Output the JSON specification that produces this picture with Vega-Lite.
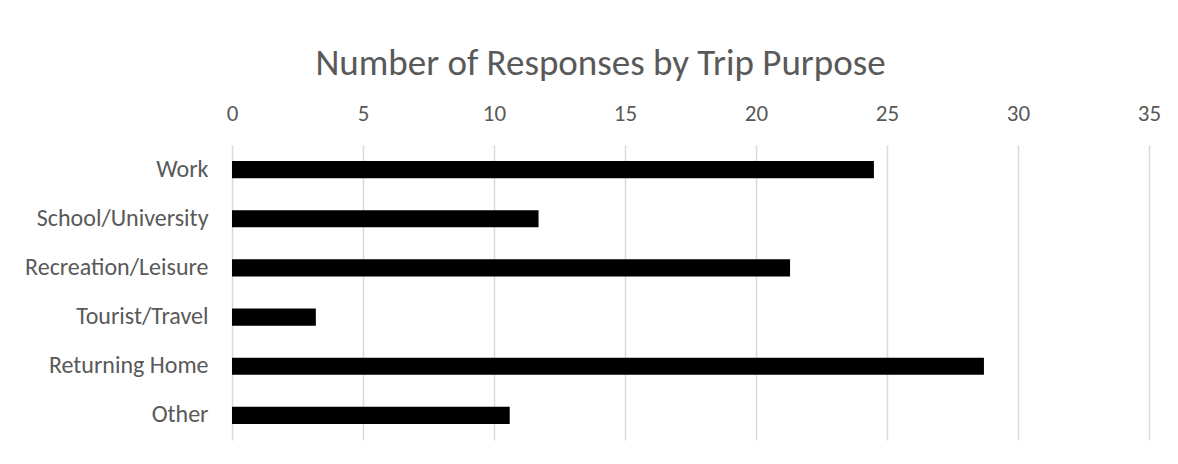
{
  "$schema": "https://vega.github.io/schema/vega-lite/v6.json",
  "autosize": "none",
  "width": 917,
  "height": 295,
  "padding": {"left": 232, "top": 145, "right": 29, "bottom": 24},
  "background": "white",
  "title": {
    "text": "Number of Responses by Trip Purpose",
    "font": "Carlito, Lato, sans-serif",
    "fontSize": 37,
    "fontWeight": "normal",
    "color": "#595959",
    "anchor": "middle",
    "dx": -90,
    "offset": 19
  },
  "data": {
    "values": [
      {"purpose": "Work", "responses": 24.5},
      {"purpose": "School/University", "responses": 11.7},
      {"purpose": "Recreation/Leisure", "responses": 21.3},
      {"purpose": "Tourist/Travel", "responses": 3.2},
      {"purpose": "Returning Home", "responses": 28.7},
      {"purpose": "Other", "responses": 10.6}
    ]
  },
  "mark": {"type": "bar", "color": "black"},
  "encoding": {
    "y": {
      "field": "purpose",
      "type": "nominal",
      "sort": null,
      "scale": {"paddingInner": 0.65, "paddingOuter": 0.325},
      "axis": {
        "title": null,
        "domain": false,
        "ticks": false,
        "labelFont": "Carlito, Lato, sans-serif",
        "labelFontSize": 24,
        "labelColor": "#595959",
        "labelPadding": 24,
        "labelLimit": 300
      }
    },
    "x": {
      "field": "responses",
      "type": "quantitative",
      "scale": {"domain": [0, 35]},
      "axis": {
        "orient": "top",
        "title": null,
        "values": [0, 5, 10, 15, 20, 25, 30, 35],
        "domain": false,
        "ticks": false,
        "grid": true,
        "gridColor": "#d9d9d9",
        "gridWidth": 1.5,
        "labelFont": "Carlito, Lato, sans-serif",
        "labelFontSize": 23,
        "labelColor": "#595959",
        "labelPadding": 20,
        "labelFlush": false
      }
    }
  },
  "config": {"view": {"stroke": null}}
}
